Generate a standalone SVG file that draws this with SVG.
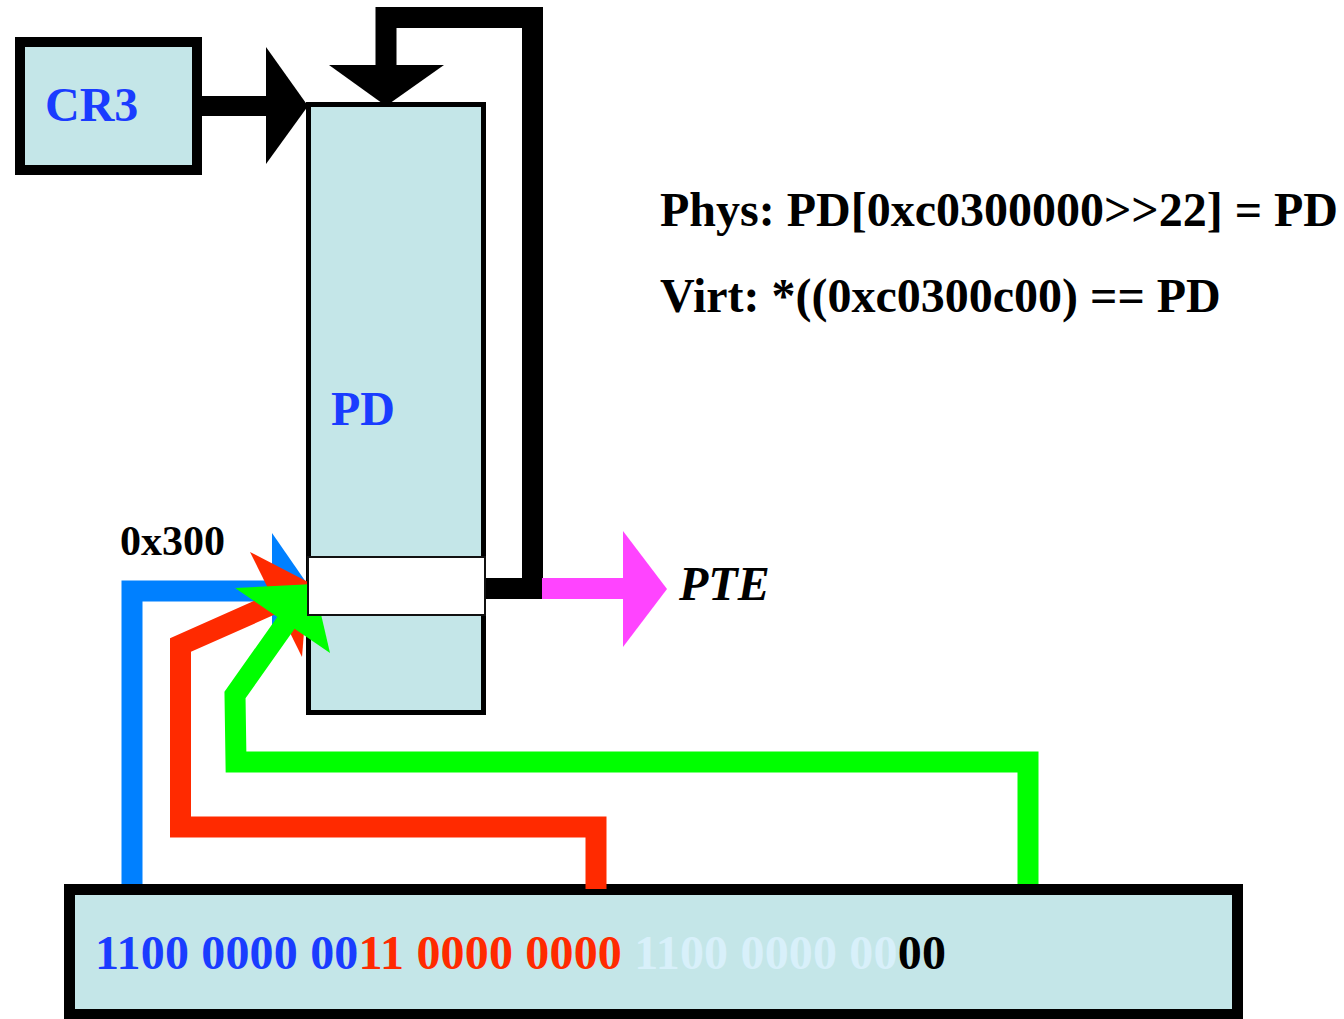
<svg xmlns="http://www.w3.org/2000/svg" width="1344" height="1019" viewBox="0 0 1344 1019">
<style>
.box{fill:#c4e6e8;stroke:#000}
.t{font-family:"Liberation Serif","Times New Roman",serif;font-weight:bold;font-size:48px}
.blue{fill:#1a3cff}
.line{fill:none;stroke-linejoin:miter;stroke-miterlimit:10}
</style>
<rect width="1344" height="1019" fill="#fff"/>
<g id="CR3">
<rect class="box" x="20" y="42" width="177" height="128" stroke-width="10"/>
<text class="t blue" x="45" y="121">CR3</text>
</g>
<g id="PD">
<rect class="box" x="308.5" y="104.5" width="175" height="608" stroke-width="5"/>
<text class="t blue" x="331" y="425">PD</text>
</g>
<g id="address">
<rect class="box" x="69.5" y="889.5" width="1168" height="125" stroke-width="11"/>
<text class="t" x="95" y="969" letter-spacing="0.18"><tspan fill="#1a3cff">1100 0000 00</tspan><tspan fill="#ff2a00">11 0000 0000</tspan><tspan fill="#d8f0fa"> 1100 0000 00</tspan><tspan fill="#000">00</tspan></text>
</g>
<g id="labels">
<text class="t" x="120" y="555" style="font-size:42px">0x300</text>
<text class="t" x="679" y="600" font-style="italic">PTE</text>
<text class="t" x="660" y="226">Phys: PD[0xc0300000&gt;&gt;22] = PD</text>
<text class="t" x="660" y="312">Virt: *((0xc0300c00) == PD</text>
</g>
<g id="connectors">
<line x1="202" y1="106" x2="270" y2="106" stroke="#000" stroke-width="20"/>
<polygon points="266,47 308,106 266,164" fill="#000"/>
<path class="line" d="M386,66 L386,17.5 L532.5,17.5 L532.5,588.5 L484,588.5" stroke="#000" stroke-width="21"/>
<polygon points="329,65 444,65 386,106" fill="#000"/>
<line x1="542" y1="588.5" x2="626" y2="588.5" stroke="#ff44ff" stroke-width="21"/>
<polygon points="623,531 667,589 623,647" fill="#ff44ff"/>
<path class="line" d="M132,884 L132,591 L280,591" stroke="#0080ff" stroke-width="21"/>
<polygon points="272,533 308,585 272,640" fill="#0080ff"/>
<path class="line" d="M596,889 L596,827 L180.5,827 L180.5,645 L275,603" stroke="#ff2a00" stroke-width="21"/>
<polygon points="250,552 308,582 302,657" fill="#ff2a00"/>
<path class="line" d="M1028,884 L1028,762 L236,762 L235,695 L288,620" stroke="#00ff00" stroke-width="21"/>
<polygon points="235,588 314,584 330,653" fill="#00ff00"/>
</g>
<g id="slot">
<rect x="308" y="557" width="177" height="58" fill="#fff" stroke="#111" stroke-width="2"/>
</g>
</svg>
